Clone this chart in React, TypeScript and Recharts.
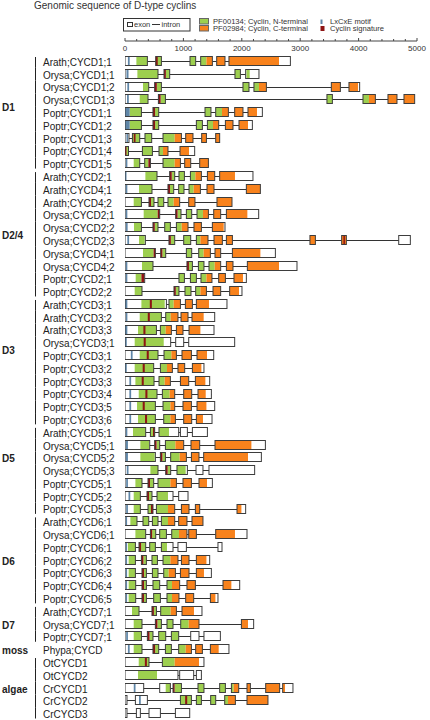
import React from 'react';
import { BarChart, Bar, XAxis, YAxis } from 'recharts';

// gene rows, top to bottom
const geneNames = [
  'Arath;CYCD1;1', 'Orysa;CYCD1;1', 'Orysa;CYCD1;2', 'Orysa;CYCD1;3', 'Poptr;CYCD1;1',
  'Poptr;CYCD1;2', 'Poptr;CYCD1;3', 'Poptr;CYCD1;4', 'Poptr;CYCD1;5',
  'Arath;CYCD2;1', 'Arath;CYCD4;1', 'Arath;CYCD4;2', 'Orysa;CYCD2;1', 'Orysa;CYCD2;2',
  'Orysa;CYCD2;3', 'Orysa;CYCD4;1', 'Orysa;CYCD4;2', 'Poptr;CYCD2;1', 'Poptr;CYCD2;2',
  'Arath;CYCD3;1', 'Arath;CYCD3;2', 'Arath;CYCD3;3', 'Orysa;CYCD3;1', 'Poptr;CYCD3;1',
  'Poptr;CYCD3;2', 'Poptr;CYCD3;3', 'Poptr;CYCD3;4', 'Poptr;CYCD3;5', 'Poptr;CYCD3;6',
  'Arath;CYCD5;1', 'Orysa;CYCD5;1', 'Orysa;CYCD5;2', 'Orysa;CYCD5;3', 'Poptr;CYCD5;1',
  'Poptr;CYCD5;2', 'Poptr;CYCD5;3',
  'Arath;CYCD6;1', 'Orysa;CYCD6;1', 'Poptr;CYCD6;1', 'Poptr;CYCD6;2', 'Poptr;CYCD6;3',
  'Poptr;CYCD6;4', 'Poptr;CYCD6;5',
  'Arath;CYCD7;1', 'Orysa;CYCD7;1', 'Poptr;CYCD7;1',
  'Phypa;CYCD',
  'OtCYCD1', 'OtCYCD2', 'CrCYCD1', 'CrCYCD2', 'CrCYCD3',
];

const groupLabels = ['D1', 'D2/4', 'D3', 'D5', 'D6', 'D7', 'moss', 'algae'];
const groupSizes = [9, 10, 10, 7, 7, 3, 1, 5];

const axisTicks = [
  0, 200, 400, 600, 800, 1000, 1200, 1400, 1600, 1800, 2000, 2200, 2400, 2600, 2800,
  3000, 3200, 3400, 3600, 3800, 4000, 4200, 4400, 4600, 4800, 5000,
];

// exons, bp from gene start: [start, end]
const exons: number[][][] = [
  [[0, 383], [526, 623], [1113, 1210], [1296, 1496], [1570, 1712], [1780, 2832]],
  [[0, 565], [668, 765], [1883, 1976], [2066, 2294]],
  [[0, 406], [508, 623], [2020, 2123], [2208, 2421], [3533, 3688], [3835, 4018]],
  [[0, 394], [572, 692], [3458, 3551], [4075, 4287], [4503, 4657], [4777, 4960]],
  [[0, 281], [479, 577], [1370, 1472], [1553, 1770], [1878, 2020], [2106, 2352]],
  [[0, 281], [479, 577], [1222, 1325], [1411, 1604], [1719, 1849], [1952, 2181]],
  [[0, 68], [127, 252], [342, 457], [651, 966], [1039, 1164], [1313, 1394], [1553, 1621]],
  [[0, 60], [298, 469], [582, 736], [942, 1193]],
  [[0, 252], [337, 435], [651, 949], [1022, 1125], [1279, 1428]],
  [[0, 548], [765, 851], [924, 1017], [1120, 1308], [1411, 1536], [1621, 2191]],
  [[0, 462], [736, 834], [919, 1010], [1096, 1291], [1404, 1524], [2078, 2318]],
  [[0, 281], [411, 496], [565, 663], [736, 936], [1091, 1198], [1575, 1832]],
  [[0, 594], [868, 959], [1051, 1142], [1233, 1428], [1519, 1638], [1736, 2289]],
  [[0, 281], [479, 565], [680, 777], [880, 1079], [1181, 1308], [1496, 1712]],
  [[0, 349], [753, 851], [1005, 1125], [1222, 1421], [1524, 1667], [1736, 1839], [3167, 3260], [3710, 3790], [4687, 4886]],
  [[0, 520], [611, 697], [1051, 1142], [1262, 1462], [1541, 1638], [1839, 2575]],
  [[0, 479], [1061, 1154], [1257, 1352], [1438, 1638], [1736, 1849], [2095, 2945]],
  [[0, 337], [924, 1017], [1120, 1222], [1301, 1489], [1604, 1719], [1866, 2078]],
  [[0, 291], [839, 924], [1027, 1130], [1210, 1394], [1507, 1638], [1792, 2003]],
  [[0, 709], [753, 949], [1034, 1154], [1222, 1746]],
  [[0, 623], [697, 907], [959, 1079], [1147, 1536]],
  [[0, 538], [606, 794], [880, 993], [1096, 1524]],
  [[0, 782], [868, 1005], [1091, 1878]],
  [[0, 565], [668, 880], [976, 1137], [1233, 1519]],
  [[0, 491], [606, 811], [907, 1022], [1154, 1352]],
  [[0, 497], [582, 777], [949, 1091], [1205, 1450]],
  [[0, 548], [640, 851], [1005, 1142], [1250, 1479]],
  [[0, 520], [651, 851], [993, 1137], [1233, 1536]],
  [[0, 520], [663, 863], [1005, 1142], [1222, 1490]],
  [[0, 354], [435, 508], [582, 919], [949, 1068], [1154, 1411]],
  [[0, 423], [508, 594], [692, 1005], [1130, 1279], [1541, 2404]],
  [[0, 520], [606, 692], [782, 1051], [1137, 1267], [1347, 2335]],
  [[0, 565], [697, 782], [890, 1068], [1216, 1335], [1438, 2220]],
  [[0, 291], [394, 491], [565, 880], [993, 1137], [1267, 1496]],
  [[0, 263], [377, 462], [548, 822], [919, 1079]],
  [[0, 263], [394, 479], [538, 851], [966, 1096], [1205, 1279], [1918, 2066]],
  [[0, 205], [308, 406], [469, 565], [623, 851], [919, 1061], [1147, 1335]],
  [[0, 354], [435, 526], [594, 709], [800, 1061], [1091, 1222], [1553, 2089]],
  [[0, 178], [240, 354], [423, 520], [623, 822], [907, 1051], [1592, 1661]],
  [[0, 178], [281, 366], [462, 555], [651, 907], [966, 1096], [1222, 1450]],
  [[0, 178], [291, 366], [469, 565], [663, 863], [949, 1096], [1222, 1479]],
  [[0, 183], [291, 366], [479, 594], [719, 936], [1061, 1205], [1678, 1964]],
  [[0, 183], [291, 366], [491, 606], [719, 924], [1039, 1176], [1462, 1592]],
  [[0, 240], [462, 538], [611, 880], [976, 1318]],
  [[0, 291], [520, 623], [719, 822], [954, 1267], [1993, 2203]],
  [[0, 281], [383, 479], [577, 697], [794, 919], [1125, 1267], [1352, 1633]],
  [[0, 291], [479, 577], [692, 794], [919, 1137], [1210, 1325], [1462, 1780]],
  [[0, 411], [640, 1352]],
  [[0, 907], [936, 1176], [1222, 1308]],
  [[0, 320], [594, 777], [822, 966], [1250, 1352], [1621, 1719], [1822, 1947], [2089, 2147], [2409, 2648], [2700, 2876]],
  [[0, 34], [178, 383], [949, 1137], [1222, 1308], [1467, 1553], [1707, 1890], [2089, 2448]],
  [[0, 34], [195, 263], [411, 606], [863, 1108]],
];

// PF00134 cyclin N-terminal
const nTermDomains: number[][][] = [
  [[195, 383], [526, 623], [1113, 1210], [1296, 1394]],
  [[212, 565], [700, 765], [1883, 1976], [2080, 2135]],
  [[308, 406], [545, 623], [2020, 2123], [2208, 2294]],
  [[252, 394], [610, 692], [3458, 3551], [4075, 4177]],
  [[80, 281], [515, 577], [1370, 1472], [1553, 1661]],
  [[80, 281], [515, 577], [1222, 1325], [1411, 1507]],
  [[127, 252], [342, 457], [651, 851]],
  [[20, 60], [298, 469], [582, 651]],
  [[149, 252], [337, 400], [651, 851]],
  [[349, 548], [800, 851], [924, 1017], [1120, 1205]],
  [[240, 462], [770, 834], [919, 1010], [1096, 1176]],
  [[149, 281], [445, 496], [565, 663], [736, 834]],
  [[320, 560], [900, 959], [1051, 1142], [1233, 1335]],
  [[154, 281], [510, 565], [680, 777], [880, 971]],
  [[240, 337], [785, 851], [1005, 1125], [1222, 1291]],
  [[308, 490], [640, 697], [1051, 1142], [1262, 1347]],
  [[291, 479], [1095, 1154], [1257, 1352], [1438, 1536]],
  [[183, 281], [924, 1017], [1120, 1222], [1301, 1394]],
  [[166, 291], [870, 924], [1027, 1130], [1210, 1291]],
  [[281, 680], [753, 834]],
  [[252, 623], [697, 782]],
  [[223, 538], [606, 697]],
  [[166, 663]],
  [[252, 565], [668, 794]],
  [[166, 491], [606, 719]],
  [[178, 497], [582, 680]],
  [[235, 548], [640, 765]],
  [[206, 520], [651, 777]],
  [[223, 520], [663, 777]],
  [[137, 354], [435, 508], [582, 753]],
  [[263, 411], [540, 594], [692, 863]],
  [[263, 508], [640, 692], [782, 936]],
  [[435, 565], [730, 782], [890, 1039]],
  [[178, 291], [428, 491], [565, 777]],
  [[149, 263], [411, 462], [548, 736]],
  [[149, 263], [394, 445], [538, 736]],
  [[92, 205], [308, 406], [469, 565], [623, 736]],
  [[178, 354], [465, 526], [594, 709], [800, 924]],
  [[51, 178], [275, 354], [423, 520], [623, 719]],
  [[63, 178], [315, 366], [462, 555], [651, 777]],
  [[63, 178], [325, 366], [469, 565], [663, 748]],
  [[63, 183], [325, 366], [479, 594], [719, 805]],
  [[63, 183], [325, 366], [491, 606], [719, 805]],
  [[120, 240], [495, 538], [611, 782]],
  [[149, 291], [555, 623], [719, 822], [954, 1091]],
  [[149, 281], [420, 479], [577, 697], [794, 919]],
  [[149, 291], [515, 577], [692, 794], [919, 1039]],
  [[235, 411], [640, 851]],
  [[223, 548]],
  [[697, 777], [850, 966], [1250, 1352], [1621, 1719], [1822, 1861]],
  [[949, 1137], [1222, 1308], [1467, 1553], [1707, 1763]],
  [],
];

// PF02984 cyclin C-terminal
const cTermDomains: number[][][] = [
  [[1394, 1496], [1570, 1712], [1780, 2637]],
  [],
  [[2294, 2421], [3533, 3688], [3835, 3990]],
  [[4177, 4287], [4503, 4657], [4777, 4960]],
  [[1661, 1770], [1878, 2020], [2106, 2260]],
  [[1507, 1604], [1719, 1849], [1952, 2106]],
  [[851, 966], [1039, 1164], [1313, 1394], [1553, 1621]],
  [[651, 736], [942, 1096]],
  [[851, 949], [1022, 1125], [1279, 1428]],
  [[1205, 1308], [1411, 1536], [1621, 1883]],
  [[1176, 1291], [1404, 1524], [2078, 2318]],
  [[834, 936], [1091, 1198], [1575, 1832]],
  [[1335, 1428], [1519, 1638], [1736, 2095]],
  [[971, 1079], [1181, 1308], [1496, 1690]],
  [[1291, 1421], [1524, 1667], [1736, 1839], [3167, 3260], [3710, 3790]],
  [[1347, 1462], [1541, 1638], [1839, 2318]],
  [[1536, 1638], [1736, 1849], [2095, 2637]],
  [[1394, 1489], [1604, 1719], [1866, 2020]],
  [[1291, 1394], [1507, 1638], [1792, 1952]],
  [[834, 949], [1034, 1154], [1222, 1438]],
  [[782, 907], [959, 1079], [1147, 1347]],
  [[697, 794], [880, 993], [1096, 1291]],
  [],
  [[794, 880], [976, 1137], [1233, 1404]],
  [[719, 811], [907, 1022], [1154, 1308]],
  [[680, 777], [949, 1091], [1205, 1376]],
  [[765, 851], [1005, 1142], [1250, 1382]],
  [[777, 851], [993, 1137], [1233, 1394]],
  [[777, 863], [1005, 1142], [1222, 1335]],
  [],
  [[863, 1005], [1130, 1279], [1541, 2164]],
  [[936, 1051], [1137, 1267], [1347, 2106]],
  [],
  [[777, 880], [993, 1137], [1267, 1404]],
  [],
  [[736, 851], [966, 1096], [1205, 1279], [1918, 1993]],
  [[736, 851], [919, 1061], [1147, 1335]],
  [[924, 1061], [1091, 1222], [1553, 1883]],
  [],
  [[777, 907], [966, 1096], [1222, 1394]],
  [[748, 863], [949, 1096], [1222, 1352]],
  [[805, 936], [1061, 1205], [1678, 1821]],
  [[805, 924], [1039, 1176], [1462, 1548]],
  [[782, 880], [976, 1181]],
  [[1091, 1267], [1993, 2106]],
  [],
  [[1039, 1137], [1210, 1325], [1462, 1604]],
  [[851, 1267]],
  [],
  [[1861, 1947], [2089, 2147], [2409, 2648], [2700, 2740]],
  [[1763, 1890], [2089, 2448]],
  [],
];

// LxCxE motif
const lxcxeMotifs: number[][][] = [
  [[50, 80]], [[25, 60]], [[40, 70]], [[35, 65]], [[0, 80]], [[0, 80]], [[25, 45]], [], [[15, 40]],
  [[0, 25]], [[10, 40]], [], [[10, 40]], [[15, 45]], [[40, 70]], [], [[10, 40]], [[10, 40]], [],
  [[0, 40]], [[15, 40]], [[0, 40]], [[0, 30]], [[100, 130]], [[0, 30]], [[75, 105]], [[75, 105]], [[75, 105]], [[75, 105]],
  [[10, 40]], [[10, 50]], [[10, 50]], [[30, 60]], [[20, 50]], [[60, 90]], [[20, 50]],
  [[10, 35]], [], [[10, 35]], [[10, 35]], [[10, 35]], [[10, 35]], [[10, 35]],
  [], [], [[20, 50]],
  [[50, 80]],
  [], [], [[150, 180]], [[240, 270]], [],
];

// cyclin signature
const cyclinSignatures: number[][][] = [
  [[526, 560]], [[668, 700]], [[508, 545]], [[572, 610]], [[479, 515]], [[479, 515]], [[150, 180]], [[0, 25]], [[400, 435]],
  [[765, 800]], [[736, 770]], [[411, 445]], [[560, 594], [868, 900]], [[479, 510]], [[753, 785], [3740, 3765]], [[490, 520], [611, 640]], [[1061, 1095]], [[281, 330]], [[839, 870]],
  [[425, 460]], [[390, 425]], [[315, 350]], [[320, 355]], [[372, 407]], [[303, 338]], [[286, 321]], [[349, 384]], [[303, 338]], [[343, 378]],
  [[480, 508]], [[508, 540]], [[606, 640]], [[697, 730]], [[394, 428]], [[377, 411]], [[445, 479]],
  [], [[435, 465]], [[240, 275]], [[281, 315]], [[291, 325]], [[291, 325]], [[291, 325]],
  [[462, 495]], [[520, 555]], [[383, 420]],
  [[479, 515]],
  [[340, 375]], [], [[822, 850]], [[1030, 1065]], [],
];

const GREEN = '#9dcf4f';
const ORANGE = '#f8821c';
const LXCXE = '#5f86a8';
const SIGNATURE = '#8e1414';
const EDGE = '#3d3d3d';
const FONT = '"Liberation Sans", Arial, sans-serif';

const ROW_H = 665 / 52;
// where each group label sits, in rows from the group's first gene
const groupLabelAt = [3.5, 4.5, 3.5, 2, 3, 1, 0, 2];
const groupStarts = groupSizes.map((_, g) => groupSizes.slice(0, g).reduce((a, b) => a + b, 0));
const groupOf = geneNames.map((_, i) => groupStarts.filter((s) => s <= i).length - 1);

const data = geneNames.map((name, i) => ({
  name,
  span: [0, exons[i][exons[i].length - 1][1]],
  exons: exons[i],
  nTerm: nTermDomains[i],
  cTerm: cTermDomains[i],
  lxcxe: lxcxeMotifs[i],
  sig: cyclinSignatures[i],
}));

function GeneShape(props: any) {
  const { x, y, width, height, payload } = props;
  const len = payload.span[1];
  const px = (bp: number) => x + (bp / len) * width;
  const cy = Math.round(y + height / 2) + 0.5;
  const top = Math.round(y) + 0.5;
  const h = Math.round(height) - 1;
  const seg = (list: number[][], fill: string, key: string) =>
    list.map(([s, e], k) => (
      <rect key={key + k} x={px(s)} y={top} width={Math.max(px(e) - px(s), 1.5)} height={h} fill={fill} />
    ));
  return (
    <g>
      <line x1={px(0)} x2={px(len)} y1={cy} y2={cy} stroke="#333" strokeWidth={1} />
      {seg(payload.exons, '#fff', 'w')}
      {seg(payload.nTerm, GREEN, 'n')}
      {seg(payload.cTerm, ORANGE, 'c')}
      {seg(payload.lxcxe, LXCXE, 'l')}
      {seg(payload.sig, SIGNATURE, 's')}
      {payload.exons.map(([s, e]: number[], k: number) => (
        <rect key={'o' + k} x={px(s)} y={top} width={px(e) - px(s)} height={h} fill="none" stroke={EDGE} strokeWidth={1} />
      ))}
    </g>
  );
}

function GeneTick(props: any) {
  const { y, payload } = props;
  const i = geneNames.indexOf(payload.value);
  const g = groupOf[i];
  const start = groupStarts[g];
  const size = groupSizes[g];
  const y1 = y - ROW_H / 2 + (i === start ? 2 : 0);
  const y2 = y + ROW_H / 2 - (i === start + size - 1 ? 1.5 : 0);
  const at = groupLabelAt[g];
  return (
    <g>
      <text x={43} y={y} dy={4.5} fontSize={10} fontFamily={FONT} fill="#222">
        {payload.value}
      </text>
      {size > 1 && <line x1={35.5} x2={35.5} y1={y1} y2={y2} stroke="#222" strokeWidth={1} />}
      {i === start + Math.floor(at) && (
        <text x={2} y={y + (at - Math.floor(at)) * ROW_H} dy={4.5} fontSize={10} fontWeight="bold" fontFamily={FONT} fill="#222">
          {groupLabels[g]}
        </text>
      )}
    </g>
  );
}

function AxisTick(props: any) {
  const { x, y, payload } = props;
  const major = payload.value % 1000 === 0;
  return (
    <g>
      <line x1={x} x2={x} y1={y} y2={y - (major ? 3 : 2)} stroke="#444" strokeWidth={1} />
      {major && (
        <text x={x} y={y + 10} textAnchor="middle" fontSize={8} fontFamily={FONT} fill="#333">
          {payload.value}
        </text>
      )}
    </g>
  );
}

function Header() {
  const t = { fontFamily: FONT, fill: '#333' };
  return (
    <svg width={430} height={40} style={{ position: 'absolute', left: 0, top: 0 }}>
      <text x={34} y={8.5} fontSize={10} {...t}>Genomic sequence of D-type cyclins</text>
      <rect x={123.5} y={18.5} width={66.5} height={12.5} fill="none" stroke="#333" />
      <rect x={127.5} y={22.5} width={5} height={4} fill="#fff" stroke="#333" />
      <text x={134} y={27.3} fontSize={7.5} {...t}>exon</text>
      <line x1={152} x2={160} y1={24.5} y2={24.5} stroke="#333" />
      <text x={161.5} y={27.3} fontSize={7.5} {...t}>intron</text>
      <rect x={199.5} y={18.5} width={9} height={5.5} fill={GREEN} stroke="#666" />
      <rect x={199.5} y={25.5} width={9} height={5.5} fill={ORANGE} stroke="#666" />
      <text x={213} y={23.6} fontSize={7.6} {...t}>PF00134; Cyclin, N-terminal</text>
      <text x={213} y={31.4} fontSize={7.6} {...t}>PF02984; Cyclin, C-terminal</text>
      <rect x={320.5} y={19.5} width={2} height={4.5} fill={LXCXE} />
      <rect x={320.5} y={26} width={4} height={5} fill={SIGNATURE} />
      <text x={330} y={23.6} fontSize={7.6} {...t}>LxCxE motif</text>
      <text x={330} y={31.4} fontSize={7.6} {...t}>Cyclin signature</text>
    </svg>
  );
}

export default function App() {
  return (
    <div style={{ position: 'absolute', left: 0, top: 0, width: 430, height: 720, background: '#fff' }}>
      <BarChart
        width={430}
        height={720}
        data={data}
        layout="vertical"
        margin={{ top: 30, right: 13, bottom: 0, left: 0 }}
        barSize={10}
      >
        <XAxis
          type="number"
          orientation="top"
          domain={[0, 5000]}
          ticks={axisTicks}
          interval={0}
          height={11}
          tickSize={0}
          tickMargin={0}
          tickLine={false}
          tick={AxisTick}
          axisLine={{ stroke: '#444' }}
          allowDataOverflow
        />
        <YAxis
          type="category"
          dataKey="name"
          width={125}
          interval={0}
          tickLine={false}
          axisLine={false}
          tick={GeneTick}
          padding={{ top: 14, bottom: 0 }}
        />
        <Bar dataKey="span" shape={GeneShape} isAnimationActive={false} />
      </BarChart>
      <Header />
    </div>
  );
}
